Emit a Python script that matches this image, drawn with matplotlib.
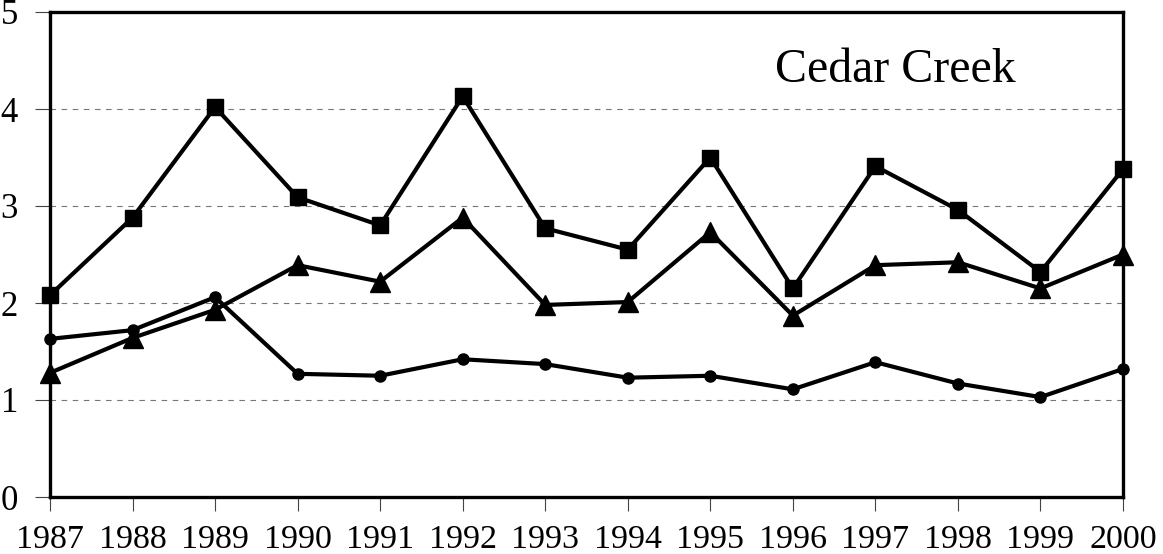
import matplotlib
matplotlib.use("Agg")
import matplotlib.pyplot as plt

years = [1987, 1988, 1989, 1990, 1991, 1992, 1993, 1994, 1995, 1996, 1997, 1998, 1999, 2000]
squares = [2.08, 2.88, 4.02, 3.09, 2.80, 4.13, 2.77, 2.55, 3.50, 2.15, 3.41, 2.96, 2.32, 3.38]
triangles = [1.28, 1.64, 1.93, 2.39, 2.22, 2.88, 1.98, 2.01, 2.73, 1.87, 2.39, 2.42, 2.15, 2.50]
circles = [1.63, 1.72, 2.06, 1.27, 1.25, 1.42, 1.37, 1.23, 1.25, 1.11, 1.39, 1.17, 1.03, 1.32]
y_ticks = [0, 1, 2, 3, 4, 5]
title_text = "Cedar Creek"

plt.rcParams['font.family'] = ['Liberation Serif', 'DejaVu Serif']

fig = plt.figure(figsize=(11.63, 5.54), dpi=100)
ax = fig.add_axes([50/1163, 57/554, (1123-50)/1163, (497-12)/554])

lw = 3.0
ax.plot(years, squares, color='black', lw=lw, marker='s', ms=11.5, clip_on=False, zorder=3)
ax.plot(years, triangles, color='black', lw=lw, marker='^', ms=15, clip_on=False, zorder=3)
ax.plot(years, circles, color='black', lw=lw, marker='o', ms=8, clip_on=False, zorder=3)

ax.set_xlim(1987, 2000)
ax.set_ylim(0, 5)
ax.set_xticks(years)
ax.set_xticklabels([str(y) for y in years])
ax.set_yticks(y_ticks)
for v in y_ticks[1:-1]:
    ax.axhline(v, color='#777777', lw=0.8, ls=(0, (5, 5)), zorder=1)

for s in ax.spines.values():
    s.set_linewidth(2.4)
    s.set_color('black')

ax.tick_params(axis='x', direction='out', length=10, width=0.8, pad=10, labelsize=24.5, color='#444444')
ax.tick_params(axis='y', direction='out', length=11, width=0.8, pad=12, labelsize=25, color='#444444')

ax.text(0.7875, 0.856, title_text, transform=ax.transAxes, ha='center', va='baseline', fontsize=34.5)

fig.savefig("out.png", dpi=100)
